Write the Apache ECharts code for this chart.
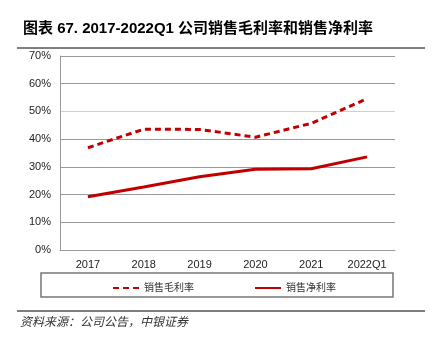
<!DOCTYPE html>
<html>
<head>
<meta charset="utf-8">
<script src="https://cdn.jsdelivr.net/npm/echarts@6/dist/echarts.min.js"></script>
<style>
  html, body { margin: 0; padding: 0; background: #fff; }
  #container { width: 439px; height: 350px; }
</style>
</head>
<body>
<div id="container"></div>
<script>
// 数据
var categories = ['2017', '2018', '2019', '2020', '2021', '2022Q1'];
var grossMargin = [36.9, 43.6, 43.5, 40.7, 45.7, 54.6];   // 销售毛利率
var netMargin = [19.2, 22.7, 26.4, 29.1, 29.3, 33.6];     // 销售净利率
var yTicks = [0, 10, 20, 30, 40, 50, 60, 70];

var red = '#c00000';
var cjk = '"Liberation Sans", Arial, "Noto Sans CJK SC", sans-serif';

var dom = document.getElementById('container');
var myChart = echarts.init(dom, null, { renderer: 'canvas' });

var option = {
  animation: false,
  textStyle: { fontFamily: cjk },
  title: {
    text: '图表 67. 2017-2022Q1 公司销售毛利率和销售净利率',
    left: 18,
    top: 16,
    textStyle: { fontSize: 15, fontWeight: 'bold', color: '#000', fontFamily: cjk }
  },
  grid: { left: 60, right: 44, top: 56, bottom: 100, containLabel: false },
  legend: {
    left: 107,
    top: 278,
    itemWidth: 26,
    itemHeight: 12,
    itemGap: 60,
    itemStyle: { opacity: 0 },
    textStyle: { fontSize: 10, color: '#333', fontFamily: cjk },
    data: ['销售毛利率', '销售净利率']
  },
  xAxis: {
    type: 'category',
    data: categories,
    boundaryGap: true,
    axisLine: { lineStyle: { color: '#999' } },
    axisTick: { show: false },
    axisLabel: { color: '#222', fontSize: 11, margin: 9 }
  },
  yAxis: {
    type: 'value',
    min: yTicks[0],
    max: yTicks[yTicks.length - 1],
    interval: 10,
    axisLine: { show: true, lineStyle: { color: '#999' } },
    axisTick: { show: false },
    axisLabel: { color: '#222', fontSize: 11, formatter: '{value}%', margin: 9 },
    splitLine: {
      lineStyle: { color: ['#999', '#999', '#999', '#999', '#999', '#cfcfcf', '#999', '#999'], width: 1 }
    }
  },
  series: [
    {
      name: '销售毛利率',
      type: 'line',
      data: grossMargin,
      symbol: 'none',
      smooth: false,
      lineStyle: { color: red, width: 3, type: [6, 4] },
      itemStyle: { color: red }
    },
    {
      name: '销售净利率',
      type: 'line',
      data: netMargin,
      symbol: 'none',
      smooth: false,
      lineStyle: { color: red, width: 3, type: 'solid' },
      itemStyle: { color: red }
    }
  ],
  graphic: [
    { type: 'line', shape: { x1: 17, y1: 48, x2: 425, y2: 48 }, style: { stroke: '#000', lineWidth: 1 } },
    { type: 'rect', shape: { x: 41, y: 273, width: 352, height: 24 }, style: { fill: 'none', stroke: '#777', lineWidth: 1.5 } },
    { type: 'line', shape: { x1: 17, y1: 311, x2: 425, y2: 311 }, style: { stroke: '#000', lineWidth: 1 } },
    {
      type: 'text', left: 20, top: 315,
      style: { text: '资料来源：公司公告，中银证券', font: 'italic 12px "Noto Sans CJK SC", sans-serif', fill: '#333' }
    }
  ]
};

myChart.setOption(option);
</script>
</body>
</html>
